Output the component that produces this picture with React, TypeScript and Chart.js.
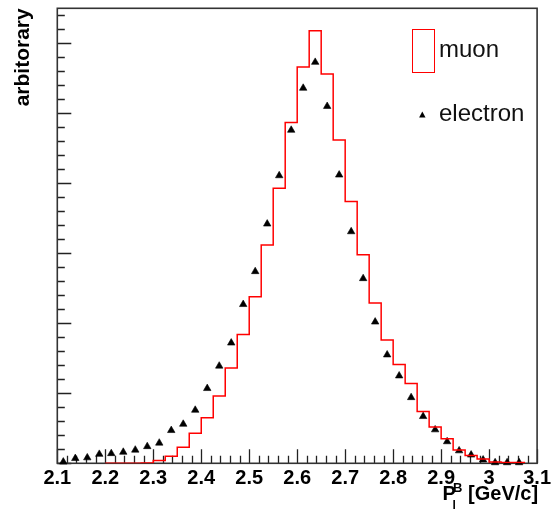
import React, { useEffect, useRef } from "react";
import { Chart, registerables } from "chart.js";

Chart.register(...registerables);

// ---- data ----
const xMin = 2.1;
const xMax = 3.1;
const binWidth = 0.025;
const yMax = 6.5;
const xTickValues = [2.1, 2.2, 2.3, 2.4, 2.5, 2.6, 2.7, 2.8, 2.9, 3.0, 3.1];

// muon histogram: bins of 0.025 starting at 2.2
const muonStart = 2.2;
const muonValues = [
  0, 0, 0, 0.005, 0.04, 0.1, 0.23, 0.43, 0.65, 0.96,
  1.36, 1.84, 2.38, 3.12, 3.93, 4.87, 5.66, 6.18, 5.56, 4.62,
  3.74, 2.98, 2.29, 1.76, 1.41, 1.14, 0.74, 0.52, 0.35, 0.19,
  0.11, 0.06, 0.02, 0.01, 0.01,
];

// electron points: bin centres starting at 2.1
const electronStart = 2.1;
const electronValues = [
  0.02, 0.07, 0.08, 0.13, 0.14, 0.16, 0.19, 0.24, 0.29, 0.47,
  0.56, 0.76, 1.07, 1.39, 1.72, 2.27, 2.74, 3.42, 4.11, 4.76,
  5.36, 5.73, 5.1, 4.12, 3.31, 2.64, 2.02, 1.55, 1.25, 0.94,
  0.67, 0.48, 0.31, 0.18, 0.12, 0.05, 0.01, 0.01, 0.01,
];

const legendLabels = ["muon", "electron"];
const yTitle = "arbitorary";

const FONT = "'Liberation Sans', Arial, Helvetica, sans-serif";

const decorPlugin = {
  id: "decor",
  beforeDatasetsDraw(chart: any) {
    const { ctx, chartArea } = chart;
    const xs = chart.scales.x;
    const ys = chart.scales.y;
    const { left, right, top, bottom } = chartArea;
    ctx.save();
    // ticks
    ctx.strokeStyle = "#222";
    ctx.lineWidth = 1.3;
    ctx.beginPath();
    for (let k = 0; k <= 50; k++) {
      const v = xMin + k * 0.02;
      const px = Math.round(xs.getPixelForValue(v)) + 0.5;
      const len = k % 5 === 0 ? 14 : 7.5;
      ctx.moveTo(px, bottom);
      ctx.lineTo(px, bottom - len);
    }
    for (let k = 0; k <= 32; k++) {
      const v = k * 0.2;
      const py = Math.round(ys.getPixelForValue(v)) + 0.5;
      const len = k % 5 === 0 ? 14 : 7.5;
      ctx.moveTo(left, py);
      ctx.lineTo(left + len, py);
    }
    ctx.stroke();
    // frame
    ctx.strokeStyle = "#333";
    ctx.lineWidth = 1.6;
    ctx.strokeRect(left, top, right - left, bottom - top);
    ctx.restore();
  },
  afterDraw(chart: any) {
    const { ctx, chartArea } = chart;
    const { right } = chartArea;
    ctx.save();
    // x title  P_l^B [GeV/c]
    ctx.fillStyle = "#000";
    ctx.textBaseline = "alphabetic";
    ctx.textAlign = "right";
    ctx.font = `bold 20px ${FONT}`;
    ctx.fillText("[GeV/c]", right + 1, 500);
    ctx.textAlign = "left";
    ctx.fillText("P", 442.5, 500);
    ctx.font = `bold 13px ${FONT}`;
    ctx.fillText("B", 453, 492);
    ctx.font = `bold 12px ${FONT}`;
    ctx.fillText("l", 452.5, 508.5);

    // legend
    ctx.strokeStyle = "rgb(255,0,0)";
    ctx.lineWidth = 1;
    ctx.strokeRect(412.5, 29.5, 22, 43);
    ctx.fillStyle = "#111";
    ctx.font = `24px ${FONT}`;
    ctx.fillText(legendLabels[0], 439, 57);
    ctx.fillText(legendLabels[1], 439, 121);
    ctx.fillStyle = "#000";
    ctx.beginPath();
    ctx.moveTo(422.3, 111.5);
    ctx.lineTo(425.5, 117.5);
    ctx.lineTo(419.1, 117.5);
    ctx.closePath();
    ctx.fill();
    ctx.restore();
  },
};

export default function App() {
  const ref = useRef<HTMLCanvasElement | null>(null);

  useEffect(() => {
    if (!ref.current) return;
    const muonData = muonValues.map((v, i) => ({ x: muonStart + i * binWidth, y: v }));
    muonData.push({
      x: muonStart + muonValues.length * binWidth,
      y: muonValues[muonValues.length - 1],
    });
    const electronData = electronValues.map((v, i) => ({
      x: electronStart + (i + 0.5) * binWidth,
      y: v,
    }));

    const chart = new Chart(ref.current, {
      type: "scatter",
      data: {
        datasets: [
          {
            label: legendLabels[0],
            data: muonData,
            showLine: true,
            stepped: "before",
            borderColor: "rgb(255,0,0)",
            borderWidth: 1.5,
            pointRadius: 0,
            fill: false,
          } as any,
          {
            label: legendLabels[1],
            data: electronData,
            pointStyle: "triangle",
            pointRadius: 4.3,
            backgroundColor: "#000",
            borderColor: "#000",
            borderWidth: 0.6,
            clip: false,
          } as any,
        ],
      },
      options: {
        animation: false,
        responsive: false,
        devicePixelRatio: 1,
        layout: { padding: { top: 8.3, right: 13, left: 0, bottom: 0 } },
        plugins: { legend: { display: false }, tooltip: { enabled: false } },
        events: [],
        scales: {
          x: {
            type: "linear",
            min: xMin,
            max: xMax,
            position: "bottom",
            grid: { display: false, drawTicks: false },
            border: { display: false },
            afterBuildTicks: (scale: any) => {
              scale.ticks = xTickValues.map((v) => ({ value: v }));
            },
            ticks: {
              autoSkip: false,
              maxRotation: 0,
              padding: 3,
              color: "#000",
              font: { family: FONT, size: 20, weight: "bold" },
              callback: (v: any) => String(Number(Number(v).toFixed(2))),
            },
            afterFit: (scale: any) => {
              scale.height = 45.7;
            },
          },
          y: {
            type: "linear",
            min: 0,
            max: yMax,
            grid: { display: false, drawTicks: false },
            border: { display: false },
            ticks: { display: false },
            title: {
              display: true,
              text: yTitle,
              align: "end",
              color: "#000",
              font: { family: FONT, size: 21, weight: "bold" },
              padding: { top: 10.5, bottom: 0 },
            },
            afterFit: (scale: any) => {
              scale.width = 57.3;
            },
          },
        },
      } as any,
      plugins: [decorPlugin],
    });
    return () => chart.destroy();
  }, []);

  return (
    <div style={{ position: "absolute", left: 0, top: 0, width: 554, height: 509, background: "#fff" }}>
      <canvas ref={ref} width={554} height={509} style={{ display: "block" }} />
    </div>
  );
}
